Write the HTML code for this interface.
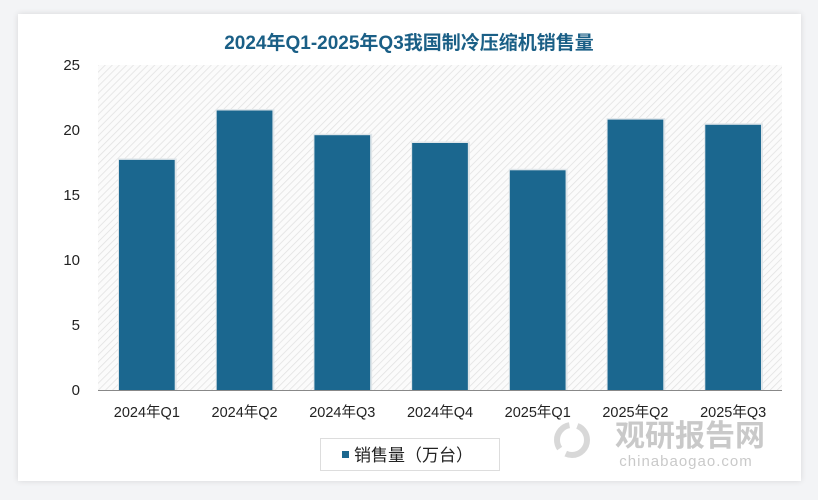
<!DOCTYPE html>
<html><head><meta charset="utf-8">
<style>
html,body{margin:0;padding:0;}
body{width:818px;height:500px;background:#f3f4f6;position:relative;overflow:hidden;font-family:"Liberation Sans","Noto Sans CJK SC",sans-serif;}
#card{position:absolute;left:18px;top:14px;width:783px;height:467px;background:#fff;box-shadow:0 0 6px rgba(0,0,0,0.12);}
svg{position:absolute;left:0;top:0;}
</style></head>
<body>
<div id="card"></div>
<svg id="chart" width="818" height="500">
<defs>
<pattern id="hatch" patternUnits="userSpaceOnUse" width="5" height="5" patternTransform="rotate(45)">
<rect width="5" height="5" fill="#fbfbfb"/>
<line x1="0" y1="0" x2="0" y2="5" stroke="#e2e2e2" stroke-width="1.6"/>
</pattern>
</defs>
<text x="409" y="49" text-anchor="middle" font-size="19" font-weight="bold" fill="#1a5f86">2024年Q1-2025年Q3我国制冷压缩机销售量</text>
<rect x="98" y="65" width="684" height="325" fill="url(#hatch)"/>
<g id="bars"></g>
<line x1="98" y1="390.5" x2="782" y2="390.5" stroke="#888" stroke-width="1"/>
<g id="yticks"></g>
<g id="xticks"></g>
<g opacity="0.45">
<circle cx="572" cy="440" r="15" fill="none" stroke="#aaa" stroke-width="6" stroke-dasharray="30 8"/>
<text x="690" y="446" text-anchor="middle" font-size="30" font-weight="bold" fill="#888" font-family="'Noto Sans CJK SC',sans-serif">观研报告网</text>
<text x="686" y="466" text-anchor="middle" font-size="15" fill="#888" letter-spacing="1">chinabaogao.com</text>
</g>
<rect x="320.5" y="438.5" width="179" height="32" fill="#fff" stroke="#ddd"/>
<rect x="342" y="451" width="7" height="7" fill="#1b678f"/>
<text x="354" y="461" font-size="17" fill="#222">销售量（万台）</text>
</svg>
<script>
const categories=["2024年Q1","2024年Q2","2024年Q3","2024年Q4","2025年Q1","2025年Q2","2025年Q3"];
const salesValues=[17.7,21.5,19.6,19.0,16.9,20.8,20.4];
const yTickValues=[0,5,10,15,20,25];
const NS="http://www.w3.org/2000/svg";
const plotL=98,plotR=782,plotT=65,plotB=390,yMax=25;
const band=(plotR-plotL)/categories.length;
function yScale(v){return plotB-(v/yMax)*(plotB-plotT);}
function xScale(i){return plotL+band*i;}
const barsG=document.getElementById('bars');
salesValues.forEach((v,i)=>{
  const w=band*0.57;
  const x=xScale(i)+(band-w)/2;
  const sh=document.createElementNS(NS,'rect');
  sh.setAttribute('x',x-1);sh.setAttribute('y',yScale(v)-1.5);
  sh.setAttribute('width',w+3);sh.setAttribute('height',plotB-yScale(v)+1.5);
  sh.setAttribute('fill','#dfe6ea');
  
  
  barsG.appendChild(sh);
  const r=document.createElementNS(NS,'rect');
  r.setAttribute('x',x);r.setAttribute('y',yScale(v));
  r.setAttribute('width',w);r.setAttribute('height',plotB-yScale(v));
  r.setAttribute('fill','#1b678f');
  
  
  barsG.appendChild(r);
});
const yG=document.getElementById('yticks');
yTickValues.forEach(t=>{
  const tx=document.createElementNS(NS,'text');
  tx.setAttribute('x',80);tx.setAttribute('y',yScale(t)+5);
  tx.setAttribute('text-anchor','end');tx.setAttribute('font-size','15');tx.setAttribute('fill','#222');
  tx.textContent=t;
  
  
  yG.appendChild(tx);
});
const xG=document.getElementById('xticks');
categories.forEach((c,i)=>{
  const tx=document.createElementNS(NS,'text');
  tx.setAttribute('x',xScale(i)+band/2);tx.setAttribute('y',417);
  tx.setAttribute('text-anchor','middle');tx.setAttribute('font-size','14.5');tx.setAttribute('fill','#222');
  tx.textContent=c;
  
  
  xG.appendChild(tx);
});
</script>
</body></html>
